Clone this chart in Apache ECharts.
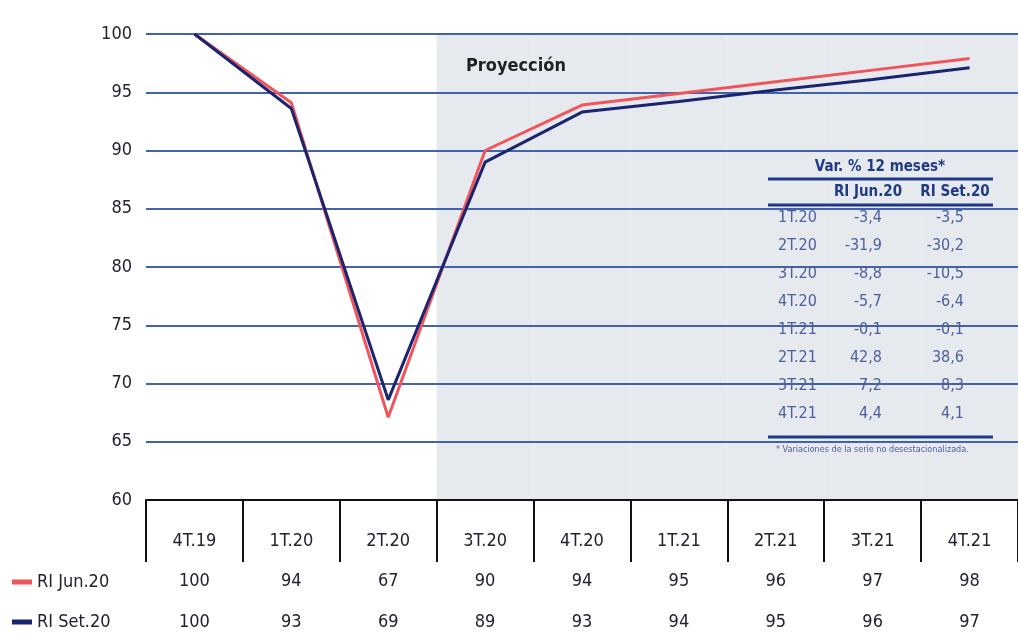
<!DOCTYPE html>
<html><head><meta charset="utf-8">
<script src="https://cdn.jsdelivr.net/npm/echarts@6/dist/echarts.min.js"></script>
<style>html,body{margin:0;padding:0;background:#fff}#c{width:1018px;height:634px}</style>
</head><body><div id="c"></div>
<script>
const categories = ['4T.19','1T.20','2T.20','3T.20','4T.20','1T.21','2T.21','3T.21','4T.21'];
const riJun = [100, 94.1, 67.1, 90.0, 93.9, 94.9, 95.9, 96.9, 97.9];
const riSet = [100, 93.6, 68.6, 89.0, 93.3, 94.2, 95.2, 96.1, 97.1];
const riJunTable = ['100','94','67','90','94','95','96','97','98'];
const riSetTable = ['100','93','69','89','93','94','95','96','97'];
const projection = [null, null, null, 100, 100, 100, 100, 100, 100];
const yTicks = [60, 65, 70, 75, 80, 85, 90, 95, 100];
const varLabels = ['1T.20','2T.20','3T.20','4T.20','1T.21','2T.21','3T.21','4T.21'];
const varJun = ['-3,4','-31,9','-8,8','-5,7','-0,1','42,8','7,2','4,4'];
const varSet = ['-3,5','-30,2','-10,5','-6,4','-0,1','38,6','8,3','4,1'];

const FONT = "'Liberation Sans Narrow','DejaVu Sans Condensed','Liberation Sans',sans-serif";
const TXT = '#222233';
const TBL = '#1f3a86';
const TBL2 = '#4d5f9e';

const graphics = [
  {type:'text', left:466, top:57, z:10, style:{text:'Proyección', font:'bold 18px '+FONT, fill:'#222'}},
  {type:'text', x:880, y:167, z:10, style:{text:'Var. % 12 meses*', font:'bold 15px '+FONT, fill:TBL, align:'center', verticalAlign:'middle'}},
  {type:'line', z:10, shape:{x1:768,y1:179,x2:993,y2:179}, style:{stroke:TBL, lineWidth:3}},
  {type:'text', x:868, y:192, z:10, style:{text:'RI Jun.20', font:'bold 15px '+FONT, fill:TBL, align:'center', verticalAlign:'middle'}},
  {type:'text', x:955, y:192, z:10, style:{text:'RI Set.20', font:'bold 15px '+FONT, fill:TBL, align:'center', verticalAlign:'middle'}},
  {type:'line', z:10, shape:{x1:768,y1:205,x2:993,y2:205}, style:{stroke:TBL, lineWidth:3}},
  {type:'line', z:10, shape:{x1:768,y1:437,x2:993,y2:437}, style:{stroke:TBL, lineWidth:3}},
  {type:'text', x:776, y:450, z:10, style:{text:'* Variaciones de la serie no desestacionalizada.', font:'9px '+FONT, fill:TBL2, align:'left', verticalAlign:'middle'}}
];
varLabels.forEach((lab, i) => {
  const y = 218 + 28 * i;
  graphics.push({type:'text', x:778, y:y, z:10, style:{text:lab, font:'16px '+FONT, fill:TBL2, align:'left', verticalAlign:'middle'}});
  graphics.push({type:'text', x:882, y:y, z:10, style:{text:varJun[i], font:'16px '+FONT, fill:TBL2, align:'right', verticalAlign:'middle'}});
  graphics.push({type:'text', x:964, y:y, z:10, style:{text:varSet[i], font:'16px '+FONT, fill:TBL2, align:'right', verticalAlign:'middle'}});
});

const chart = echarts.init(document.getElementById('c'), null, {renderer:'canvas'});
chart.setOption({
  animation:false,
  backgroundColor:'#fff',
  textStyle:{fontFamily:FONT},
  grid:{left:146, right:0, top:34, bottom:134, containLabel:false},
  legend:{
    data:['RI Jun.20','RI Set.20'], orient:'vertical', left:12, top:573, itemGap:22, padding:0,
    itemWidth:20, itemHeight:5, icon:'rect',
    textStyle:{fontSize:18, color:TXT, fontFamily:FONT}
  },
  xAxis:[
    {type:'category', data:categories, boundaryGap:true, z:5,
     axisLine:{lineStyle:{color:'#111', width:2}},
     axisTick:{show:true, length:62, lineStyle:{color:'#111', width:2}},
     axisLabel:{margin:32, fontSize:18, color:TXT, fontFamily:FONT},
     splitLine:{show:false}},
    {type:'category', data:riJunTable, position:'bottom', offset:64, gridIndex:0,
     axisLine:{show:false}, axisTick:{show:false},
     axisLabel:{margin:8, fontSize:18, color:TXT, fontFamily:FONT}},
    {type:'category', data:riSetTable, position:'bottom', offset:105, gridIndex:0,
     axisLine:{show:false}, axisTick:{show:false},
     axisLabel:{margin:8, fontSize:18, color:TXT, fontFamily:FONT}}
  ],
  yAxis:{
    type:'value', min:yTicks[0], max:yTicks[yTicks.length-1], interval:5, z:1,
    axisLine:{show:false}, axisTick:{show:false},
    axisLabel:{margin:14, fontSize:18, color:TXT, fontFamily:FONT},
    splitLine:{show:true, lineStyle:{color:'#4262ad', width:2}}
  },
  series:[
    {name:'Proyección', type:'bar', data:projection, barWidth:'100%', z:0, silent:true,
     itemStyle:{color:'#e6e9ee', borderColor:'#e6e9ee', borderWidth:1}},
    {name:'RI Jun.20', type:'line', data:riJun, z:3, symbol:'none', color:'#f0555a',
     lineStyle:{color:'#f0555a', width:3}},
    {name:'RI Set.20', type:'line', data:riSet, z:4, symbol:'none', color:'#1b2470',
     lineStyle:{color:'#1b2470', width:3}}
  ],
  graphic:graphics
});
</script></body></html>
